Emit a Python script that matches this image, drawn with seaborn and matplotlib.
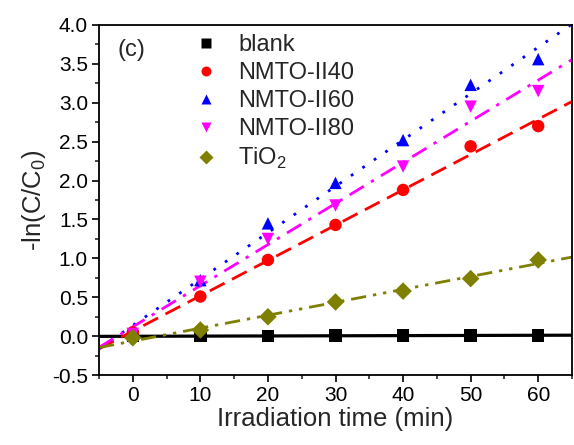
import numpy as np
import pandas as pd
import matplotlib
matplotlib.use("Agg")
import matplotlib.pyplot as plt
import seaborn as sns
from matplotlib.ticker import MultipleLocator, FormatStrFormatter

time = [0, 10, 20, 30, 40, 50, 60]
blank = [0.00, 0.00, 0.00, 0.01, 0.01, 0.01, 0.01]
nmto40 = [0.05, 0.51, 0.98, 1.43, 1.88, 2.44, 2.70]
nmto60 = [0.03, 0.72, 1.45, 1.97, 2.52, 3.23, 3.56]
nmto80 = [0.03, 0.70, 1.25, 1.68, 2.18, 2.95, 3.15]
tio2 = [-0.02, 0.08, 0.25, 0.44, 0.58, 0.74, 0.98]

names = ["blank", "NMTO-II40", "NMTO-II60", "NMTO-II80", "TiO$_2$"]
series = [blank, nmto40, nmto60, nmto80, tio2]
colors = ["black", "#ff0000", "#0000ff", "#ff00ff", "#808000"]
markers = ["s", "o", "^", "v", "D"]
linestyles = ["-", (0, (6, 3)), (0, (1, 4)), (0, (6, 3, 1.2, 3)), (0, (5.5, 2.5, 1.2, 2.5, 1.2, 2.5))]

df = pd.DataFrame({
    "t": time * len(names),
    "v": sum(series, []),
    "s": [n for n in names for _ in time],
})

sns.set_style("ticks")
plt.rcParams["font.family"] = ["Liberation Sans", "DejaVu Sans"]
plt.rcParams["mathtext.fontset"] = "custom"
plt.rcParams["mathtext.rm"] = "Liberation Sans"

fig = plt.figure(figsize=(5.74, 4.45), dpi=100)
ax = fig.add_axes([0.1725, 0.157, 0.824, 0.787])
ax.set_xlim(-5, 65)
ax.set_ylim(-0.5, 4.0)

for name, vals, c, ls in zip(names, series, colors, linestyles):
    sns.regplot(x=time, y=vals, ax=ax, ci=None, scatter=False, truncate=False,
                line_kws=dict(color=c, lw=2.3 if ls == "-" else 2.0, linestyle=ls, zorder=2))

sns.scatterplot(data=df, x="t", y="v", hue="s", style="s", palette=dict(zip(names, colors)),
                markers=dict(zip(names, markers)), s=80, edgecolor="none", ax=ax, zorder=3,
                legend=True)

ax.set_xlim(-5, 65)
ax.set_ylim(-0.5, 4.0)
ax.xaxis.set_major_locator(MultipleLocator(10))
ax.xaxis.set_minor_locator(MultipleLocator(5))
ax.yaxis.set_major_locator(MultipleLocator(0.5))
ax.yaxis.set_minor_locator(MultipleLocator(0.25))
ax.yaxis.set_major_formatter(FormatStrFormatter("%.1f"))
ax.tick_params(which="major", direction="out", length=5, width=1.2, labelsize=15, colors="black", pad=3)
ax.tick_params(which="minor", direction="out", length=3, width=1.2)
for sp in ax.spines.values():
    sp.set_visible(True)
    sp.set_linewidth(1.3)
    sp.set_color("black")

ax.set_xlabel("Irradiation time (min)", fontsize=18.5, labelpad=1)
ax.set_ylabel("-ln(C/C$_0$)", fontsize=18.5, labelpad=3)

handles, labels = ax.get_legend_handles_labels()
leg = ax.legend(handles, labels, loc="upper left", bbox_to_anchor=(0.176, 0.973), frameon=False,
                fontsize=17, handletextpad=0.36, labelspacing=0.25, markerscale=0.8,
                borderaxespad=0, borderpad=0, handlelength=2.0)

ax.text(0.04, 0.96, "(c)", transform=ax.transAxes, fontsize=17, va="top", ha="left")

fig.savefig("out.png", dpi=100)
